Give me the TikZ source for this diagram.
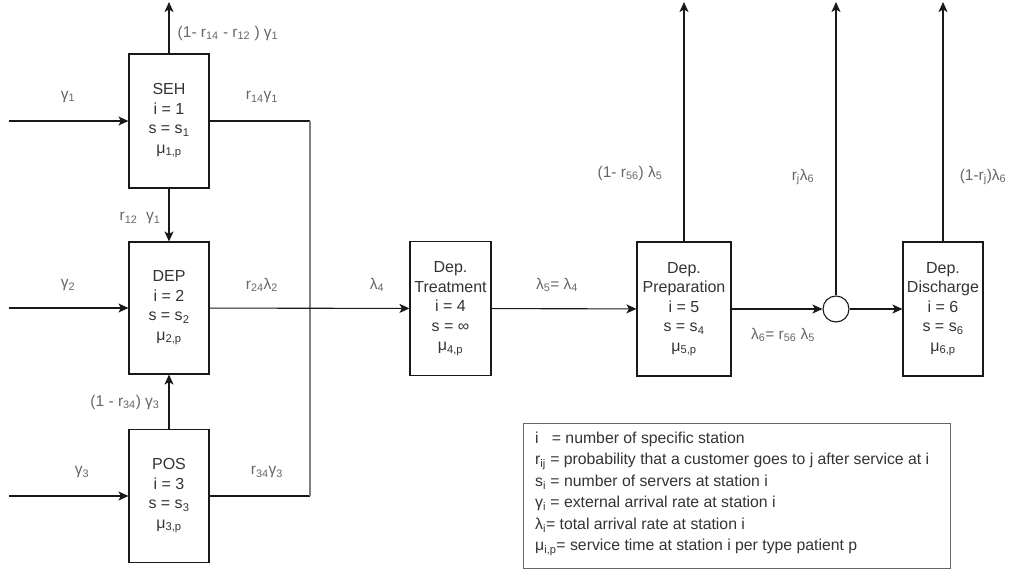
\documentclass[tikz,border=0pt]{standalone}
\usepackage{fontspec}
\setmainfont{Liberation Sans}
\usetikzlibrary{arrows.meta}
\begin{document}
\begin{tikzpicture}[
 x=1pt,y=-1pt,
 line/.style={line width=1.1pt,draw=black!90},
 arr/.style={line,-{Stealth[length=10pt,width=9pt,inset=2.5pt]}},
 station/.style={draw=black!90,line width=1.1pt,minimum width=80pt,minimum height=134pt,
   align=center,inner sep=1pt,text=black!80,font={\fontsize{16}{19.5}\selectfont}},
 flow/.style={text=black!60,inner sep=1pt,font={\fontsize{15.5}{17}\selectfont}},
 every node/.style={}]
 \useasboundingbox (0,0) rectangle (1010,574);
 % Arrival stations on the left.
 \node[station] (seh) at (169,121) {SEH\\i = 1\\s = s\textsubscript{1}\\μ\textsubscript{1,p}};
 \node[station,minimum height=132pt] (dep) at (169,308) {DEP\\i = 2\\s = s\textsubscript{2}\\μ\textsubscript{2,p}};
 \node[station,minimum height=133pt] (pos) at (169,496) {POS\\i = 3\\s = s\textsubscript{3}\\μ\textsubscript{3,p}};
 % Stations in series.
 \node[station,minimum width=81pt] (treat) at (450.5,308.5) {Dep.\\Treatment\\i = 4\\s = ∞\\μ\textsubscript{4,p}};
 \node[station,minimum width=94pt] (prep) at (684,309) {Dep.\\Preparation\\i = 5\\s = s\textsubscript{4}\\μ\textsubscript{5,p}};
 \node[draw=black!90,line width=1.1pt,circle,minimum size=26pt,inner sep=0pt] (junc) at (836,309) {};
 \node[station] (dis) at (943,309) {Dep.\\Discharge\\i = 6\\s = s\textsubscript{6}\\μ\textsubscript{6,p}};
 % Free ends.
 \coordinate (in1) at (9,121); \coordinate (in2) at (9,308); \coordinate (in3) at (9,496);
 \coordinate (out1) at (169,2); \coordinate (out5) at (684,2);
 \coordinate (out6) at (836,2); \coordinate (out7) at (943,2);
 \coordinate (mt) at (310,121); \coordinate (mb) at (310,496);
 % Connectors.
 \draw[arr] (in1)--(seh); \draw[arr] (in2)--(dep); \draw[arr] (in3)--(pos);
 \draw[arr] (seh)--(dep); \draw[arr] (pos)--(dep);
 \draw[arr] (seh.north)--(out1);
 \draw[line] (seh.east)--(mt); \draw[line] (pos.east)--(mb);
 \draw[line width=2.2pt,black!50] (mt)--(mb);
 \draw[arr] (dep)--(treat); \draw[arr] (treat)--(prep);
 \draw[arr] (prep)--(junc); \draw[arr] (junc)--(dis);
 \draw[arr] (prep.north)--(out5); \draw[arr] (junc.north)--(out6);
 \draw[arr] (dis.north)--(out7);
 % Flow labels.
 \node[flow] (l1) at (228,33) {(1- r\textsubscript{14} - r\textsubscript{12} ) γ\textsubscript{1}};
 \node[flow] (l2) at (68,97) {γ\textsubscript{1}};
 \node[flow] (l3) at (262,97) {r\textsubscript{14}γ\textsubscript{1}};
 \node[flow] (l4) at (140,218) {r\textsubscript{12}\ \ γ\textsubscript{1}};
 \node[flow] (l5) at (68,285) {γ\textsubscript{2}};
 \node[flow] (l6) at (262,285) {r\textsubscript{24}λ\textsubscript{2}};
 \node[flow] (l7) at (125,402) {(1 - r\textsubscript{34}) γ\textsubscript{3}};
 \node[flow] (l8) at (82,472) {γ\textsubscript{3}};
 \node[flow] (l9) at (267,472) {r\textsubscript{34}γ\textsubscript{3}};
 \node[flow] (l10) at (377,285) {λ\textsubscript{4}};
 \node[flow] (l11) at (557,285) {λ\textsubscript{5}= λ\textsubscript{4}};
 \node[flow] (l12) at (630,173) {(1- r\textsubscript{56}) λ\textsubscript{5}};
 \node[flow] (l13) at (803,177) {r\textsubscript{j}λ\textsubscript{6}};
 \node[flow] (l14) at (983,177) {(1-r\textsubscript{j})λ\textsubscript{6}};
 \node[flow] (l15) at (783,335) {λ\textsubscript{6}= r\textsubscript{56} λ\textsubscript{5}};
 % Legend.
 \node[draw=black!60,line width=1pt,minimum width=427pt,minimum height=145pt,anchor=north west,
   inner sep=0pt] (legend) at (523,423) {};
 \node[anchor=west,align=left,text=black!80,inner sep=0pt,
   font={\fontsize{15.8}{21.5}\selectfont}] (keys) at (535,494) {i\ \ \ = number of specific station\\
   r\textsubscript{ij} = probability that a customer goes to j after service at i\\
   s\textsubscript{i} = number of servers at station i\\
   γ\textsubscript{i} = external arrival rate at station i\\
   λ\textsubscript{i}= total arrival rate at station i\\
   μ\textsubscript{i,p}= service time at station i per type patient p};
\end{tikzpicture}
\end{document}
